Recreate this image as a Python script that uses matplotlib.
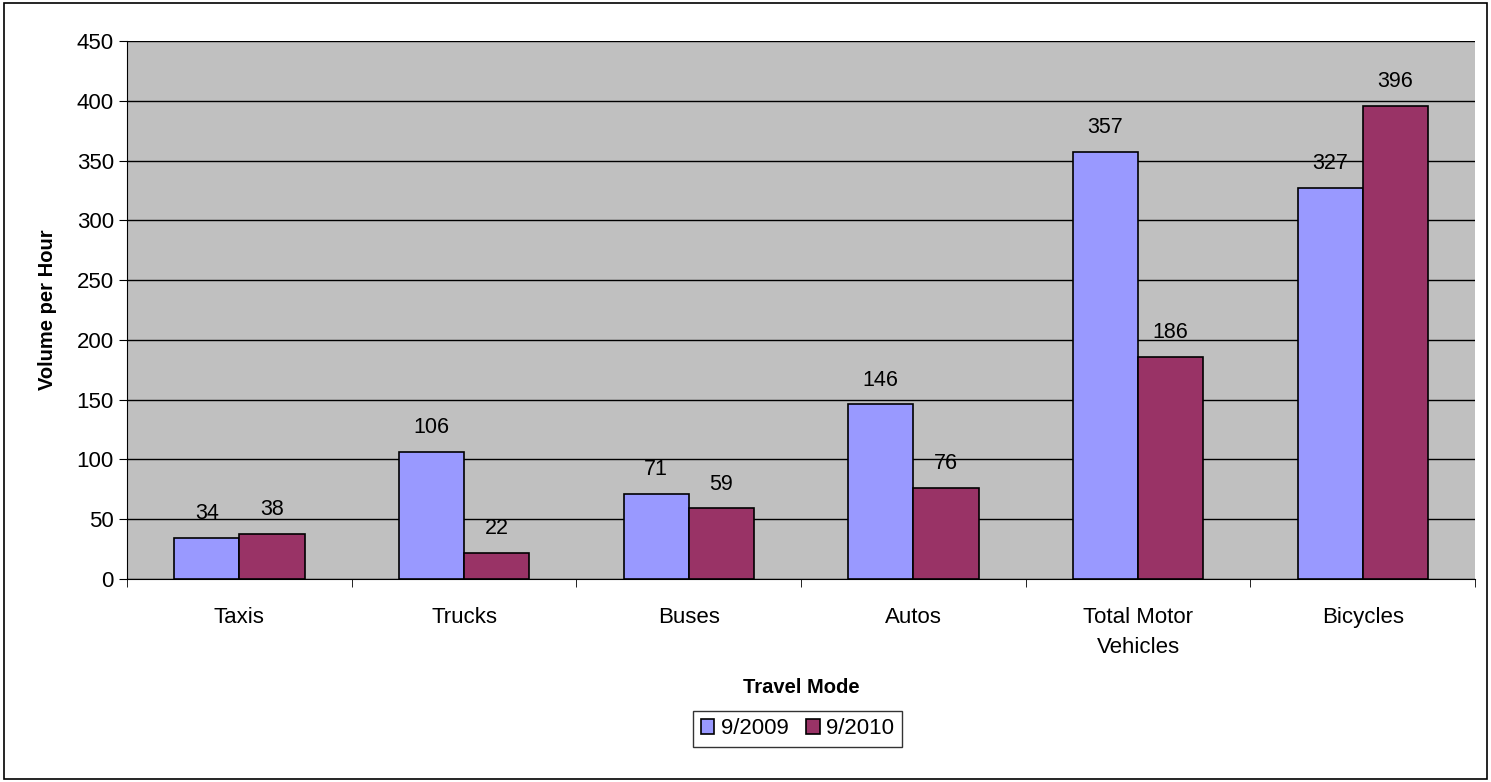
import matplotlib
matplotlib.use('Agg')
import matplotlib.pyplot as plt
import numpy as np
from matplotlib.patches import Rectangle

categories = ['Taxis', 'Trucks', 'Buses', 'Autos', 'Total Motor\nVehicles', 'Bicycles']
vol_2009 = [34, 106, 71, 146, 357, 327]
vol_2010 = [38, 22, 59, 76, 186, 396]
series_names = ['9/2009', '9/2010']

plt.rcParams['font.family'] = ['Liberation Sans', 'DejaVu Sans']

fig = plt.figure(figsize=(14.91, 7.82), dpi=100)
ax = fig.add_axes([0.0852, 0.2596, 0.9041, 0.688])
fig.patches.append(Rectangle((0.003, 0.004), 0.994, 0.992, transform=fig.transFigure,
                             fill=False, edgecolor='black', linewidth=1.2))

x = np.arange(len(categories))
w = 0.29
b1 = ax.bar(x - w / 2, vol_2009, w, color='#9999FF', edgecolor='black', linewidth=1.2,
            label=series_names[0], zorder=3)
b2 = ax.bar(x + w / 2, vol_2010, w, color='#993366', edgecolor='black', linewidth=1.2,
            label=series_names[1], zorder=3)
for bars in (b1, b2):
    for rect in bars:
        ax.annotate(f'{int(rect.get_height())}',
                    (rect.get_x() + rect.get_width() / 2, rect.get_height()),
                    xytext=(0, 10), textcoords='offset points',
                    ha='center', va='bottom', fontsize=15.5)

ax.set_facecolor('#C0C0C0')
ax.set_xlim(-0.5, len(categories) - 0.5)
ax.set_ylim(0, 450)
ax.set_yticks(range(0, 451, 50))
ax.yaxis.grid(True, color='black', linewidth=1)
ax.set_axisbelow(True)
ax.set_xticks(x)
ax.set_xticklabels(categories, fontsize=16, linespacing=1.6)
ax.set_xticks(np.arange(-0.5, len(categories), 1), minor=True)
ax.tick_params(axis='x', which='major', length=0, pad=20)
ax.tick_params(axis='x', which='minor', length=6, direction='out')
ax.tick_params(axis='y', labelsize=16, length=6)
for s in ['top', 'right']:
    ax.spines[s].set_visible(False)

ax.set_xlabel('Travel Mode', fontsize=14.5, fontweight='bold', labelpad=14)
ax.set_ylabel('Volume per Hour', fontsize=14.5, fontweight='bold', labelpad=14)

leg = fig.legend(loc='center', bbox_to_anchor=(0.535, 0.068), ncol=2, fontsize=16,
                 frameon=True, fancybox=False, edgecolor='black', handlelength=0.6,
                 handleheight=0.6, handletextpad=0.3, columnspacing=0.8,
                 borderpad=0.35)
leg.get_frame().set_linewidth(1)

fig.savefig('out.png', dpi=100)
